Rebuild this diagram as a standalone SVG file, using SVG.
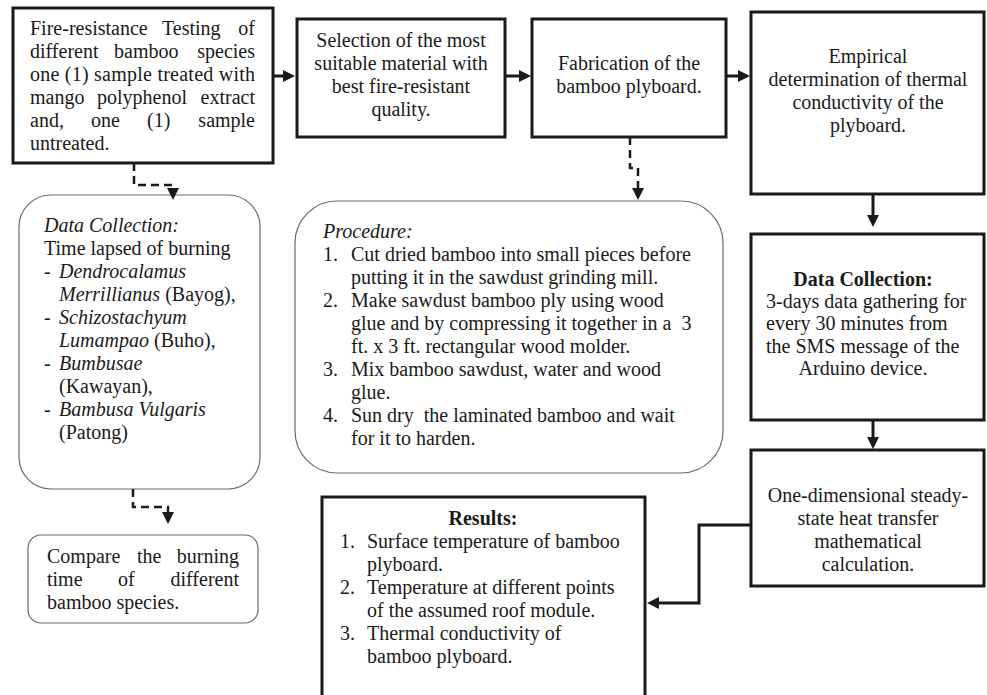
<svg xmlns="http://www.w3.org/2000/svg" width="987" height="695" viewBox="0 0 987 695">
<style>
text{font-family:"Liberation Serif","Times New Roman",serif;font-size:20px;fill:#1a1a1a}
.c{text-anchor:middle}
.e{text-anchor:end}
.i{font-style:italic}
.b{font-weight:bold}
.box{fill:#fff;stroke:#1a1a1a;stroke-width:3}
.rbox{fill:#fff;stroke:#6a6a6a;stroke-width:1.2}
.con{fill:none;stroke:#1a1a1a;stroke-width:3;marker-end:url(#ah)}
.dash{fill:none;stroke:#1a1a1a;stroke-width:2.5;stroke-dasharray:8 5;marker-end:url(#ah)}
</style>
<defs>
<marker id="ah" markerUnits="userSpaceOnUse" markerWidth="12" markerHeight="12" viewBox="0 0 12 12" refX="2" refY="6" orient="auto">
<path d="M0,0 L12,6 L0,12 z" fill="#1a1a1a" stroke="none"/>
</marker>
</defs>
<rect width="987" height="695" fill="#fff"/>

<g id="n1">
<rect class="box" x="13" y="8" width="260" height="155"/>
<text x="30" y="35">Fire-resistance</text><text x="162" y="35">Testing</text><text class="e" x="255" y="35">of</text>
<text x="30" y="58">different</text><text x="114" y="58">bamboo</text><text class="e" x="255" y="58">species</text>
<text x="30" y="81" textLength="225" lengthAdjust="spacing">one (1) sample treated with</text>
<text x="30" y="104">mango</text><text x="97" y="104">polyphenol</text><text class="e" x="255" y="104">extract</text>
<text x="30" y="127">and,</text><text x="91" y="127">one</text><text x="147" y="127">(1)</text><text class="e" x="255" y="127">sample</text>
<text x="30" y="150">untreated.</text>
</g>

<g id="n2">
<rect class="box" x="297" y="19" width="208" height="118"/>
<text class="c" x="401" y="47">Selection of the most</text>
<text class="c" x="401" y="70">suitable material with</text>
<text class="c" x="401" y="93">best fire-resistant</text>
<text class="c" x="401" y="116">quality.</text>
</g>

<g id="n3">
<rect class="box" x="532" y="19" width="194" height="118"/>
<text class="c" x="629" y="70">Fabrication of the</text>
<text class="c" x="629" y="93">bamboo plyboard.</text>
</g>

<g id="n4">
<rect class="box" x="751" y="12" width="233" height="182"/>
<text class="c" x="868" y="63">Empirical</text>
<text class="c" x="868" y="86">determination of thermal</text>
<text class="c" x="868" y="109">conductivity of the</text>
<text class="c" x="868" y="132">plyboard.</text>
</g>

<g id="n5">
<rect class="box" x="751" y="234" width="233" height="186"/>
<text class="c b" x="863" y="286">Data Collection:</text>
<text x="766" y="308">3-days data gathering for</text>
<text x="766" y="330">every 30 minutes from</text>
<text x="766" y="353">the SMS message of the</text>
<text class="c" x="863" y="375">Arduino device.</text>
</g>

<g id="n6">
<rect class="box" x="751" y="450" width="233" height="136"/>
<text class="c" x="868" y="502">One-dimensional steady-</text>
<text class="c" x="868" y="525">state heat transfer</text>
<text class="c" x="868" y="548">mathematical</text>
<text class="c" x="868" y="571">calculation.</text>
</g>

<g id="n7">
<rect class="box" x="322" y="497" width="323" height="220"/>
<text class="c b" x="483" y="525">Results:</text>
<text x="340" y="548">1.</text><text x="367" y="548">Surface temperature of bamboo</text>
<text x="367" y="571">plyboard.</text>
<text x="340" y="594">2.</text><text x="367" y="594">Temperature at different points</text>
<text x="367" y="617">of the assumed roof module.</text>
<text x="340" y="640">3.</text><text x="367" y="640">Thermal conductivity of</text>
<text x="367" y="663">bamboo plyboard.</text>
</g>

<g id="n8">
<rect class="rbox" x="19" y="195" width="241" height="294" rx="32" ry="32"/>
<text class="i" x="44" y="232">Data Collection:</text>
<text x="44" y="255">Time lapsed of burning</text>
<text x="44" y="278">- <tspan class="i" x="59">Dendrocalamus</tspan></text>
<text x="59" y="301"><tspan class="i">Merrillianus</tspan> (Bayog),</text>
<text x="44" y="324">- <tspan class="i" x="59">Schizostachyum</tspan></text>
<text x="59" y="347"><tspan class="i">Lumampao</tspan> (Buho),</text>
<text x="44" y="370">- <tspan class="i" x="59">Bumbusae</tspan></text>
<text x="59" y="393">(Kawayan),</text>
<text x="44" y="416">- <tspan class="i" x="59">Bambusa Vulgaris</tspan></text>
<text x="59" y="439">(Patong)</text>
</g>

<g id="n9">
<rect class="rbox" x="28" y="535" width="230" height="88" rx="13" ry="13"/>
<text x="47" y="563">Compare</text><text x="137" y="563">the</text><text class="e" x="239" y="563">burning</text>
<text x="47" y="586">time</text><text x="118" y="586">of</text><text class="e" x="239" y="586">different</text>
<text x="47" y="609">bamboo species.</text>
</g>

<g id="n10">
<rect class="rbox" x="295" y="201" width="428" height="272" rx="42" ry="42"/>
<text class="i" x="323" y="238">Procedure:</text>
<text x="323" y="261">1.</text><text x="351" y="261">Cut dried bamboo into small pieces before</text>
<text x="351" y="284">putting it in the sawdust grinding mill.</text>
<text x="323" y="307">2.</text><text x="351" y="307">Make sawdust bamboo ply using wood</text>
<text x="351" y="330" xml:space="preserve">glue and by compressing it together in a  3</text>
<text x="351" y="353">ft. x 3 ft. rectangular wood molder.</text>
<text x="323" y="376">3.</text><text x="351" y="376">Mix bamboo sawdust, water and wood</text>
<text x="351" y="399">glue.</text>
<text x="323" y="422">4.</text><text x="351" y="422" xml:space="preserve">Sun dry  the laminated bamboo and wait</text>
<text x="351" y="445">for it to harden.</text>
</g>

<g id="connectors">
<path class="con" d="M273,76 H285"/>
<path class="con" d="M505,76 H521"/>
<path class="con" d="M726,76 H740"/>
<path class="con" d="M873,194 V217"/>
<path class="con" d="M873,420 V439"/>
<path class="con" d="M751,525 H699 V603 H657"/>
<path class="dash" d="M134,163 V185 H173 V190"/>
<path class="dash" d="M133,489 V507 H168 V514"/>
<path class="dash" d="M630,137 V168 H638 V190"/>
</g>
</svg>
